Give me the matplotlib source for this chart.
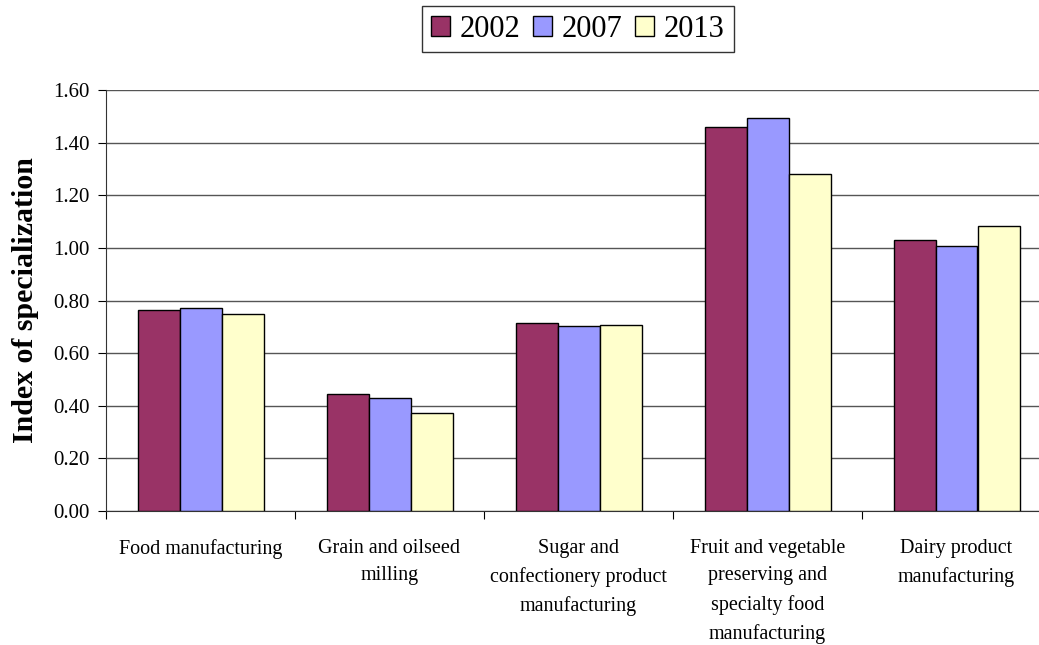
import matplotlib.pyplot as plt
import numpy as np

plt.rcParams['font.family'] = ['Liberation Serif', 'DejaVu Serif']

categories = ['Food manufacturing', 'Grain and oilseed\nmilling',
              'Sugar and\nconfectionery product\nmanufacturing',
              'Fruit and vegetable\npreserving and\nspecialty food\nmanufacturing',
              'Dairy product\nmanufacturing']
years = ['2002', '2007', '2013']
v2002 = [0.765, 0.445, 0.715, 1.46, 1.03]
v2007 = [0.77, 0.43, 0.703, 1.494, 1.008]
v2013 = [0.75, 0.372, 0.707, 1.281, 1.084]
colors = ['#993366', '#9999FF', '#FFFFCC']

fig = plt.figure(figsize=(10.39, 6.45), dpi=100)
ax = fig.add_axes([106 / 1039, 134 / 645, 945 / 1039, 421 / 645])

x = np.arange(len(categories))
w = 2 / 9
for i, (vals, yr) in enumerate(zip([v2002, v2007, v2013], years)):
    ax.bar(x + (i - 1) * w, vals, w, color=colors[i], edgecolor='black',
           linewidth=1, label=yr, zorder=3)

ax.set_xlim(-0.5, len(categories) - 0.5)
ax.set_ylim(0, 1.6)
ax.set_yticks(np.arange(0, 1.61, 0.2))
ax.set_yticklabels([f'{t:.2f}' for t in np.arange(0, 1.61, 0.2)], fontsize=15)
ax.yaxis.grid(True, color='#555555', linewidth=1, zorder=0)

# category ticks sit between groups, labels centred below each group
ax.set_xticks(np.arange(-0.5, len(categories), 1))
ax.set_xticklabels([])
ax.set_xticks(x, minor=True)
ax.set_xticklabels(categories, minor=True, fontsize=14.5, linespacing=1.62, va='top')
ax.tick_params(axis='x', which='minor', length=0, pad=20)
ax.tick_params(axis='x', which='major', length=6, direction='out')
ax.tick_params(axis='y', length=6, direction='out', pad=6)

for s in ['top', 'right']:
    ax.spines[s].set_visible(False)
ax.spines['left'].set_color('#333333')
ax.spines['bottom'].set_color('#333333')

ax.set_ylabel('Index of specialization', fontsize=21.5, fontweight='bold', labelpad=10)

fig.legend(loc='upper center', bbox_to_anchor=(578 / 1039, 1.0), ncol=3,
           fontsize=22, frameon=True, fancybox=False, edgecolor='black',
           handlelength=0.62, handleheight=0.62, handletextpad=0.33,
           columnspacing=0.4, borderpad=0.28, borderaxespad=0.2)

fig.savefig('out.png', dpi=100)
